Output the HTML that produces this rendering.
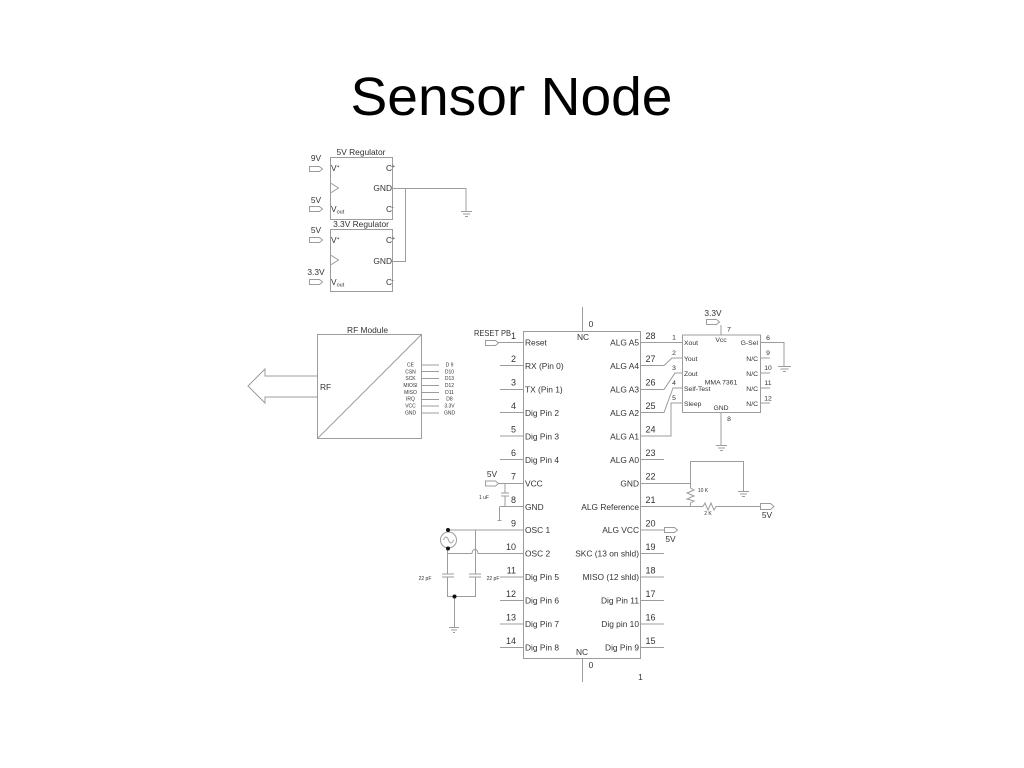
<!DOCTYPE html>
<html><head><meta charset="utf-8"><title>Sensor Node</title>
<style>
html,body{margin:0;padding:0;background:#fff;width:1024px;height:768px;overflow:hidden}
svg{display:block}
text{font-family:"Liberation Sans",sans-serif;fill:#333}
.l{font-size:8.4px}
.n{font-size:9px}
.s{font-size:5px}
.r{text-anchor:end}
.m{text-anchor:middle}
.w{fill:none;stroke:#9c9c9c;stroke-width:1}
</style></head><body>
<svg width="1024" height="768" viewBox="0 0 1024 768" xmlns="http://www.w3.org/2000/svg">
<text x="511.5" y="115" class="m" style="font-size:54px;fill:#000" textLength="322" lengthAdjust="spacingAndGlyphs">Sensor Node</text>

<g class="w">
<!-- regulators -->
<rect x="330.5" y="157.5" width="62" height="62"/>
<rect x="330.5" y="229.5" width="62" height="62"/>
<path d="M330.5 183l8 5-8 5M330.5 255l8 5-8 5"/>
<path d="M392 188.5H466V211M392 261.5H405.5V188.5M461 211.5H472M463 214H470M465 216.5H468"/>
<path d="M309.5 166.5h10l3 2.5-3 2.5h-10zM309.5 206.5h10l3 2.5-3 2.5h-10zM309.5 237.5h10l3 2.5-3 2.5h-10zM309.5 279.5h10l3 2.5-3 2.5h-10z"/>

<!-- RF -->
<rect x="317.5" y="334.5" width="104" height="104"/>
<path d="M317.5 438.5L421.5 334.5"/>
<path d="M317 376H265V369L248 386L265 403V397H317"/>
<path d="M421 365H439M421 371.5H439M421 378.5H439M421 385.5H439M421 392.5H439M421 399.5H439M421 406H439M421 413H439"/>

<!-- main IC -->
<rect x="523.5" y="331.5" width="117" height="327"/>
<path d="M582.5 307V331M582.5 658V682"/>
<path d="M498 342.5H523M500 365.5H523M500 389.5H523M500 412.5H523M500 436H523M500 459.5H523M499 483.5H523M500 506.5H523M448 530H523M500 577H523M500 600.5H523M500 624H523M500 647.5H523"/>
<path d="M641 342.5H682M641 365.5H664L672 358H682M641 389.5H664L675 373H682M641 412.5H664L673 388H682M641 436H671V403H682M641 459.5H664M641 483.5H690M641 506.5H703M641 530H664M641 553.5H664M641 577H664M641 600.5H664M641 624H664M641 647.5H664"/>
<path d="M485.5 340.5h10l3 2.5-3 2.5h-10zM485.5 481h10l3 2.5-3 2.5h-10z"/>

<!-- decoupling -->
<path d="M505 483.5V493M505 496V506.5M501 493H509M501 496H509M499.5 506.5V520M497.5 520.5H501.5"/>

<!-- oscillator -->
<circle cx="448.5" cy="540" r="8"/>
<path d="M443.5 540c1.5-4 3.5-4 5 0s3.5 4 5 0"/>
<path d="M447.5 549V574M447.5 577V596.5H475.5V577M475.5 574V530M442 574H454M442 577H454M469 574H481M469 577H481"/>
<path d="M447.5 553.5H472C472 548 478 548 478 553.5H523"/>
<path d="M454.5 596.5V627M449 627.5H459M451 630H457M453 632.5H455"/>

<!-- accelerometer -->
<rect x="682.5" y="335" width="78" height="77.5"/>
<path d="M721 335V325M706.5 319.5h10l3 2.5-3 2.5h-10z"/>
<path d="M721 412.5V445M716 445.5H727M718 448H725M720 450.5H723"/>
<path d="M761 342.5H784V366M778 366.5H791M780.5 369H788.5M783 371.5H786"/>
<path d="M761 358H770M761 373H770M761 388H770M761 403H770"/>

<!-- reference network -->
<path d="M690.5 483V461.5H743.5V491M738 491.5H749M740 494H747M742 496.5H745"/>
<path d="M690.5 483V488L694 490L687 493L694 496L687 499L694 501L690.5 503V506.5"/>
<path d="M703 506.5L705 503L708 510L711 503L714 510L716 506.5H760"/>
<path d="M760.5 503.5h10l3.5 3-3.5 3h-10zM664.5 527.5h10l3 2.5-3 2.5h-10z"/>
</g>

<g fill="#111"><circle cx="448" cy="530" r="2"/><circle cx="448" cy="548.5" r="2"/><circle cx="454.5" cy="596.5" r="2"/></g>

<!-- regulator text -->
<g class="l">
<text x="361" y="155" class="m">5V Regulator</text>
<text x="361" y="227" class="m">3.3V Regulator</text>
<text x="316" y="161" class="m">9V</text><text x="316" y="203" class="m">5V</text>
<text x="316" y="233" class="m">5V</text><text x="316" y="275" class="m">3.3V</text>
<text x="331" y="171">V<tspan dy="-3" style="font-size:5px">+</tspan></text>
<text x="331" y="243">V<tspan dy="-3" style="font-size:5px">+</tspan></text>
<text x="331" y="212">V<tspan dy="1.5" style="font-size:5.5px">out</tspan></text>
<text x="331" y="285">V<tspan dy="1.5" style="font-size:5.5px">out</tspan></text>
<text x="386" y="171">C<tspan dy="-3" style="font-size:5px">+</tspan></text>
<text x="386" y="243">C<tspan dy="-3" style="font-size:5px">+</tspan></text>
<text x="386" y="212">C<tspan dy="-3" style="font-size:5px">-</tspan></text>
<text x="386" y="285">C<tspan dy="-3" style="font-size:5px">-</tspan></text>
<text x="392" y="191" class="r">GND</text><text x="392" y="264" class="r">GND</text>
<!-- RF -->
<text x="367.5" y="333" class="m">RF Module</text>
<text x="320" y="390">RF</text>
</g>
<g class="s">
<text x="410.5" y="366.5" class="m">CE</text><text x="410.5" y="373.5" class="m">CSN</text><text x="410.5" y="380" class="m">SCK</text><text x="410.5" y="387" class="m">MIOSI</text><text x="410.5" y="394" class="m">MISO</text><text x="410.5" y="400.5" class="m">IRQ</text><text x="410.5" y="407.5" class="m">VCC</text><text x="410.5" y="414.5" class="m">GND</text>
<text x="449.5" y="366.5" class="m">D 9</text><text x="449.5" y="373.5" class="m">D10</text><text x="449.5" y="380" class="m">D13</text><text x="449.5" y="387" class="m">D12</text><text x="449.5" y="394" class="m">D11</text><text x="449.5" y="400.5" class="m">D8</text><text x="449.5" y="407.5" class="m">3.3V</text><text x="449.5" y="414.5" class="m">GND</text>
<text x="484" y="499" class="m">1 uF</text><text x="425" y="580" class="m">22 pF</text><text x="493" y="580" class="m">22 pF</text>
<text x="703" y="492" class="m">10 K</text><text x="708" y="515" class="m">2 K</text>
</g>

<!-- IC left labels -->
<g class="l">
<text x="525" y="345.5">Reset</text><text x="525" y="369">RX (Pin 0)</text><text x="525" y="392.5">TX (Pin 1)</text><text x="525" y="416">Dig Pin 2</text><text x="525" y="439.5">Dig Pin 3</text><text x="525" y="463">Dig Pin 4</text><text x="525" y="486.5">VCC</text><text x="525" y="510">GND</text><text x="525" y="533">OSC 1</text><text x="525" y="556.5">OSC 2</text><text x="525" y="580">Dig Pin 5</text><text x="525" y="603.5">Dig Pin 6</text><text x="525" y="627">Dig Pin 7</text><text x="525" y="650.5">Dig Pin 8</text>
<text x="639" y="345.5" class="r">ALG A5</text><text x="639" y="369" class="r">ALG A4</text><text x="639" y="392.5" class="r">ALG A3</text><text x="639" y="416" class="r">ALG A2</text><text x="639" y="439.5" class="r">ALG A1</text><text x="639" y="463" class="r">ALG A0</text><text x="639" y="486.5" class="r">GND</text><text x="639" y="510" class="r">ALG Reference</text><text x="639" y="533" class="r">ALG VCC</text><text x="639" y="556.5" class="r">SKC (13 on shld)</text><text x="639" y="580" class="r">MISO (12 shld)</text><text x="639" y="603.5" class="r">Dig Pin 11</text><text x="639" y="627" class="r">Dig pin 10</text><text x="639" y="650.5" class="r">Dig Pin 9</text>
<text x="583" y="340" class="m">NC</text><text x="582" y="655" class="m">NC</text>
<text x="591" y="327" class="m">0</text><text x="591" y="668" class="m">0</text><text x="640.5" y="680" class="m">1</text>
<text x="474" y="336" textLength="37" lengthAdjust="spacingAndGlyphs">RESET PB</text><text x="492" y="477" class="m">5V</text>
<text x="670.5" y="542" class="m">5V</text><text x="767" y="518" class="m">5V</text><text x="713" y="316" class="m">3.3V</text>
</g>
<g class="n">
<text x="516" y="339" class="r">1</text><text x="516" y="362" class="r">2</text><text x="516" y="385.5" class="r">3</text><text x="516" y="409" class="r">4</text><text x="516" y="432.5" class="r">5</text><text x="516" y="456" class="r">6</text><text x="516" y="479.5" class="r">7</text><text x="516" y="503" class="r">8</text><text x="516" y="526.5" class="r">9</text><text x="516" y="550" class="r">10</text><text x="516" y="573.5" class="r">11</text><text x="516" y="597" class="r">12</text><text x="516" y="620.5" class="r">13</text><text x="516" y="644" class="r">14</text>
<text x="645.5" y="339">28</text><text x="645.5" y="362">27</text><text x="645.5" y="385.5">26</text><text x="645.5" y="409">25</text><text x="645.5" y="432.5">24</text><text x="645.5" y="456">23</text><text x="645.5" y="479.5">22</text><text x="645.5" y="503">21</text><text x="645.5" y="526.5">20</text><text x="645.5" y="550">19</text><text x="645.5" y="573.5">18</text><text x="645.5" y="597">17</text><text x="645.5" y="620.5">16</text><text x="645.5" y="644">15</text>
</g>

<!-- accelerometer text -->
<g style="font-size:6.8px">
<text x="684" y="345">Xout</text><text x="684" y="361">Yout</text><text x="684" y="376">Zout</text><text x="684" y="391">Self-Test</text><text x="684" y="406">Sleep</text>
<text x="758" y="345" class="r">G-Sel</text><text x="758" y="361" class="r">N/C</text><text x="758" y="376" class="r">N/C</text><text x="758" y="391" class="r">N/C</text><text x="758" y="406" class="r">N/C</text>
<text x="721" y="342" class="m">Vcc</text><text x="721" y="410" class="m">GND</text><text x="721" y="384.5" class="m">MMA 7361</text>
<text x="674" y="339.5" class="m">1</text><text x="674" y="355" class="m">2</text><text x="674" y="370" class="m">3</text><text x="674" y="385" class="m">4</text><text x="674" y="400" class="m">5</text>
<text x="729" y="331.5" class="m">7</text><text x="729" y="421" class="m">8</text>
<text x="768" y="340" class="m">6</text><text x="768" y="355" class="m">9</text><text x="768" y="370" class="m">10</text><text x="768" y="385" class="m">11</text><text x="768" y="400.5" class="m">12</text>
</g>
</svg>
</body></html>
